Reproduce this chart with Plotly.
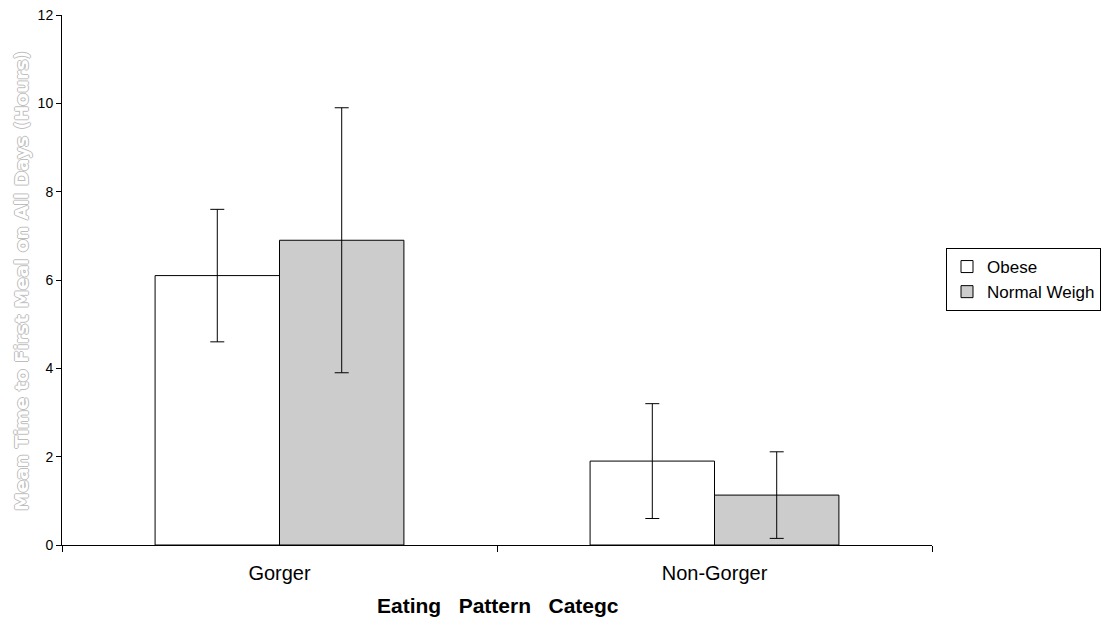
import plotly.graph_objects as go

categories = ["Gorger", "Non-Gorger"]
obese = [6.1, 1.9]
obese_err = [1.5, 1.3]
normal = [6.9, 1.13]
normal_err = [3.0, 0.98]
series_names = ["Obese", "Normal Weigh"]
y_ticks = [0, 2, 4, 6, 8, 10, 12]

O = 8  # page body margin offset
W, H = 1109 - O, 617 - O
L, R, T, B = 62 - O, 932 - O, 15 - O, 545 - O


def px(x):
    return (x - O - L) / (R - L)


def py(y):
    return (B - (y - O)) / (B - T)


fig = go.Figure()
fig.add_trace(go.Bar(
    x=categories, y=obese, name=series_names[0],
    marker=dict(color="white", line=dict(color="black", width=1)),
    error_y=dict(type="data", array=obese_err, color="black", thickness=1, width=7),
))
fig.add_trace(go.Bar(
    x=categories, y=normal, name=series_names[1],
    marker=dict(color="#cccccc", line=dict(color="black", width=1)),
    error_y=dict(type="data", array=normal_err, color="black", thickness=1, width=7),
))

fig.update_layout(
    width=W, height=H,
    margin=dict(l=L, r=W - R, t=T, b=H - B, autoexpand=False),
    paper_bgcolor="white", plot_bgcolor="white",
    barmode="group", bargap=0.428, bargroupgap=0,
    font=dict(family="Liberation Sans, Arial", color="black"),
    showlegend=True,
    legend=dict(
        x=px(946), y=py(248),
        xanchor="left", yanchor="top",
        bordercolor="black", borderwidth=1,
        font=dict(size=17, family="Liberation Sans"),
        tracegroupgap=0, itemwidth=30,
    ),
)
fig.update_xaxes(
    type="category", tickson="boundaries", ticks="outside", ticklen=6,
    tickcolor="black", showline=True, linecolor="black", linewidth=1,
    showgrid=False, tickfont=dict(size=20), range=[-0.5, 1.5], automargin=False,
    ticklabelstandoff=10,
)
fig.update_yaxes(
    range=[0, 12], tickvals=y_ticks, ticks="outside", ticklen=5,
    tickcolor="black", showline=True, linecolor="black", linewidth=1,
    showgrid=False, zeroline=False, tickfont=dict(size=14), automargin=False,
    ticklabeloverflow="allow",
)

fig.add_annotation(
    text="Mean Time to First Meal on All Days (Hours)",
    xref="paper", yref="paper", x=px(21), y=py(281),
    textangle=-90, showarrow=False, xanchor="center", yanchor="middle",
    font=dict(size=18.5, family="DejaVu Sans", color="white",
              weight="bold",
              shadow="1px 0 #bdbdbd, -1px 0 #bdbdbd, 0 1px #bdbdbd, 0 -1px #bdbdbd"),
)
fig.add_annotation(
    text="Eating\u00a0\u00a0\u00a0Pattern\u00a0\u00a0\u00a0Categc",
    xref="paper", yref="paper", x=px(498), y=py(605),
    showarrow=False, xanchor="center", yanchor="middle",
    font=dict(size=21, family="Liberation Sans", color="black", weight="bold"),
)

fig.write_html("out.html")
